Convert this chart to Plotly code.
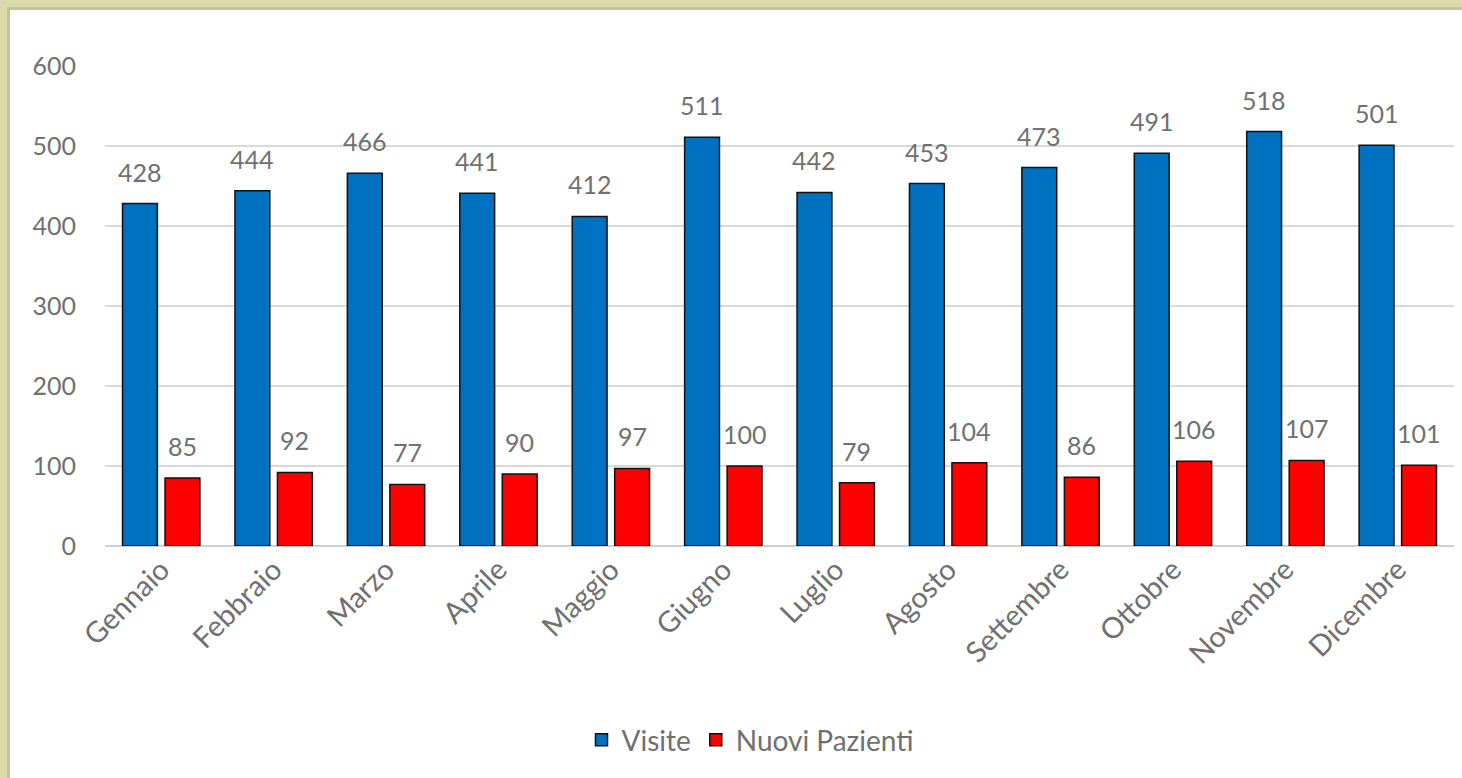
import plotly.graph_objects as go

months = ["Gennaio", "Febbraio", "Marzo", "Aprile", "Maggio", "Giugno",
          "Luglio", "Agosto", "Settembre", "Ottobre", "Novembre", "Dicembre"]
visite = [428, 444, 466, 441, 412, 511, 442, 453, 473, 491, 518, 501]
nuovi_pazienti = [85, 92, 77, 90, 97, 100, 79, 104, 86, 106, 107, 101]
y_ticks = [0, 100, 200, 300, 400, 500, 600]

W, H = 1462, 778
ML, MR, MT, MB = 105, 8, 66, 232
PW = W - ML - MR
PH = H - MT - MB

def px_x(p):
    return (p - ML) / PW

def px_y(p):
    return (H - MB - p) / PH

FONT = "Lato, 'Open Sans', sans-serif"
TXT = "#707070"
FS = 25

fig = go.Figure()
fig.add_trace(go.Bar(name="Visite", x=months, y=visite,
                     marker=dict(color="#0070C0", line=dict(color="#111111", width=1.5))))
fig.add_trace(go.Bar(name="Nuovi Pazienti", x=months, y=nuovi_pazienti,
                     marker=dict(color="#FF0000", line=dict(color="#111111", width=1.5))))

annotations = []
slot_px = 21.25
for m, v in zip(months, visite):
    annotations.append(dict(x=m, y=v, xref="x", yref="y", text=str(v), showarrow=False,
                            xshift=-slot_px, yshift=15, yanchor="bottom",
                            font=dict(family=FONT, size=FS, color=TXT)))
for m, v in zip(months, nuovi_pazienti):
    annotations.append(dict(x=m, y=v, xref="x", yref="y", text=str(v), showarrow=False,
                            xshift=slot_px, yshift=15, yanchor="bottom",
                            font=dict(family=FONT, size=FS, color=TXT)))

shapes = [
    dict(type="rect", xref="paper", yref="paper", x0=px_x(0), x1=px_x(W),
         y0=px_y(10), y1=px_y(0), fillcolor="#d9d9ab", line=dict(width=0), layer="above"),
    dict(type="rect", xref="paper", yref="paper", x0=px_x(0), x1=px_x(W),
         y0=px_y(10), y1=px_y(7), fillcolor="#c4c492", line=dict(width=0), layer="above"),
    dict(type="rect", xref="paper", yref="paper", x0=px_x(0), x1=px_x(10),
         y0=px_y(H), y1=px_y(0), fillcolor="#d9d9ab", line=dict(width=0), layer="above"),
    dict(type="rect", xref="paper", yref="paper", x0=px_x(7), x1=px_x(10),
         y0=px_y(H), y1=px_y(7), fillcolor="#c4c492", line=dict(width=0), layer="above"),
]

fig.update_layout(
    width=W, height=H,
    margin=dict(l=ML, r=MR, t=MT, b=MB, autoexpand=False),
    paper_bgcolor="white", plot_bgcolor="white",
    barmode="group", bargap=0.244, bargroupgap=0.18,
    font=dict(family=FONT, size=FS, color=TXT),
    showlegend=True,
    legend=dict(orientation="h", x=px_x(750), xanchor="center", y=px_y(740), yanchor="middle",
                font=dict(family=FONT, size=28, color=TXT), itemwidth=30),
    annotations=annotations,
    shapes=shapes,
)
fig.update_xaxes(tickangle=-45, showgrid=False, showline=False, zeroline=False,
                 tickfont=dict(family=FONT, size=29, color=TXT), ticks="")
fig.update_yaxes(range=[0, 600], tickvals=y_ticks, showgrid=True, gridcolor="#d9d9d9",
                 gridwidth=1.5, zeroline=True, zerolinecolor="#d0d0d0", zerolinewidth=1.5,
                 showline=False, ticks="", ticklabelstandoff=28,
                 tickfont=dict(family=FONT, size=FS, color=TXT))

fig.write_html("out.html", config={"displayModeBar": False},
               post_script="document.body.style.margin='0';document.body.style.overflow='hidden';")
